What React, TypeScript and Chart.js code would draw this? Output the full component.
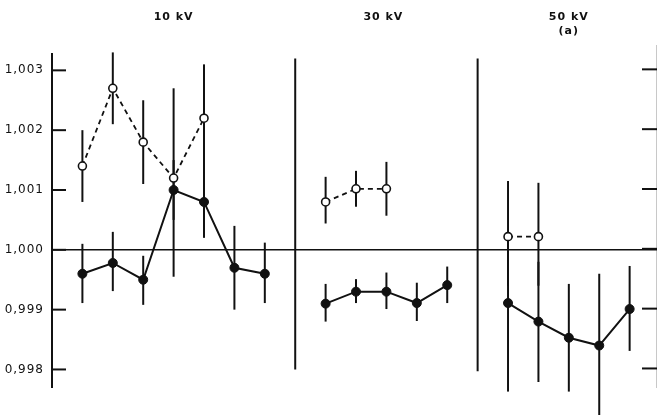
import React, { useEffect, useRef } from "react";
import { Chart, registerables } from "chart.js";

Chart.register(...registerables);

// ---- data ----
const yTicks = [0.998, 0.999, 1.0, 1.001, 1.002, 1.003];
const yTickLabels = ["0,998", "0,999", "1,000", "1,001", "1,002", "1,003"];

const panelTitles = ["10 kV", "30 kV", "50 kV"];
const panelTitleSlots = [4, 10.9, 17];
const subTitle = "(a)";
const separatorSlots = [8, 14];

// 10 kV
const slots10 = [1, 2, 3, 4, 5, 6, 7];
const solid10 = [0.9996, 0.99978, 0.9995, 1.001, 1.0008, 0.9997, 0.9996];
const solid10Lo = [0.99911, 0.99931, 0.99908, 0.99955, 1.0002, 0.999, 0.99911];
const solid10Hi = [1.0001, 1.0003, 0.9999, 1.0015, 1.0014, 1.0004, 1.00012];
const openSlots10 = [1, 2, 3, 4, 5];
const open10 = [1.0014, 1.0027, 1.0018, 1.0012, 1.0022];
const open10Lo = [1.0008, 1.0021, 1.0011, 1.0005, 1.0013];
const open10Hi = [1.002, 1.0033, 1.0025, 1.0027, 1.0031];

// 30 kV
const slots30 = [9, 10, 11, 12, 13];
const solid30 = [0.9991, 0.9993, 0.9993, 0.99911, 0.99941];
const solid30Lo = [0.9988, 0.99911, 0.99901, 0.99881, 0.99911];
const solid30Hi = [0.99943, 0.99951, 0.99962, 0.99945, 0.99972];
const openSlots30 = [9, 10, 11];
const open30 = [1.0008, 1.00102, 1.00102];
const open30Lo = [1.00044, 1.00072, 1.00057];
const open30Hi = [1.00122, 1.00132, 1.00147];

// 50 kV
const slots50 = [15, 16, 17, 18, 19];
const solid50 = [0.99911, 0.9988, 0.99853, 0.9984, 0.99901];
const solid50Lo = [0.99763, 0.99779, 0.99763, 0.9972, 0.99831];
const solid50Hi = [1.0003, 0.9998, 0.99943, 0.9996, 0.99973];
const openSlots50 = [15, 16];
const open50 = [1.00022, 1.00022];
const open50Lo = [0.9994, 0.9994];
const open50Hi = [1.00115, 1.00112];

const separatorTop = 1.0032;
const separatorBottom = [0.998, 0.99797];

const INK = "#111";

function pts(xs: number[], ys: number[]) {
  return xs.map((x, i) => ({ x, y: ys[i] }));
}

const seriesDefs = [
  { xs: slots10, ys: solid10, lo: solid10Lo, hi: solid10Hi, open: false },
  { xs: openSlots10, ys: open10, lo: open10Lo, hi: open10Hi, open: true },
  { xs: slots30, ys: solid30, lo: solid30Lo, hi: solid30Hi, open: false },
  { xs: openSlots30, ys: open30, lo: open30Lo, hi: open30Hi, open: true },
  { xs: slots50, ys: solid50, lo: solid50Lo, hi: solid50Hi, open: false },
  { xs: openSlots50, ys: open50, lo: open50Lo, hi: open50Hi, open: true },
];

const overlay = {
  id: "overlay",
  beforeDatasetsDraw(chart: any) {
    const { ctx, chartArea: a, scales } = chart;
    const xs = scales.x;
    const ys = scales.y;
    const line = (x1: number, y1: number, x2: number, y2: number) => {
      ctx.beginPath();
      ctx.moveTo(x1, y1);
      ctx.lineTo(x2, y2);
      ctx.stroke();
    };
    ctx.save();
    ctx.strokeStyle = INK;
    ctx.lineCap = "butt";

    // left axis
    ctx.lineWidth = 2;
    line(a.left, a.top, a.left, a.bottom);
    // faint right axis
    ctx.save();
    ctx.strokeStyle = "#c8c8c8";
    ctx.lineWidth = 1;
    line(a.right - 0.5, a.top - 8, a.right - 0.5, a.bottom);
    ctx.restore();

    // zero line
    ctx.lineWidth = 1.6;
    const y0 = ys.getPixelForValue(1.0);
    line(a.left, y0, a.right, y0);

    // ticks
    ctx.lineWidth = 2;
    yTicks.forEach((v) => {
      const py = ys.getPixelForValue(v);
      line(a.left, py, a.left + 14, py);
      line(a.right - 15, py - 1, a.right, py - 1);
    });

    // separators
    ctx.lineWidth = 2;
    separatorSlots.forEach((s, i) => {
      const px = xs.getPixelForValue(s);
      line(px, ys.getPixelForValue(separatorTop), px, ys.getPixelForValue(separatorBottom[i]));
    });

    // error bars
    ctx.lineWidth = 2;
    seriesDefs.forEach((d) => {
      d.xs.forEach((sx, i) => {
        const px = xs.getPixelForValue(sx);
        line(px, ys.getPixelForValue(d.hi[i]), px, ys.getPixelForValue(d.lo[i]));
      });
    });

    // tick labels
    ctx.fillStyle = INK;
    ctx.font = "12px 'DejaVu Sans'";
    ctx.textAlign = "right";
    ctx.textBaseline = "middle";
    try {
      (ctx as any).letterSpacing = "1px";
    } catch (e) {}
    yTicks.forEach((v, i) => {
      ctx.fillText(yTickLabels[i], a.left - 8, ys.getPixelForValue(v));
    });

    // panel titles
    ctx.font = "bold 11px 'DejaVu Sans'";
    ctx.textAlign = "center";
    panelTitleSlots.forEach((s, i) => {
      ctx.fillText(panelTitles[i], xs.getPixelForValue(s), 17);
    });
    ctx.fillText(subTitle, xs.getPixelForValue(panelTitleSlots[2]), 31);
    ctx.restore();
  },
};

export default function App() {
  const ref = useRef<HTMLCanvasElement | null>(null);
  useEffect(() => {
    document.body.style.margin = "0";
    const canvas = ref.current!;
    const datasets = seriesDefs.map((d) => ({
      data: pts(d.xs, d.ys),
      borderColor: INK,
      borderWidth: d.open ? 1.8 : 2,
      borderDash: d.open ? [5, 4] : [],
      pointRadius: d.open ? 4 : 4.5,
      pointBackgroundColor: d.open ? "#fff" : INK,
      pointBorderColor: INK,
      pointBorderWidth: d.open ? 1.6 : 1,
      tension: 0,
      fill: false,
    }));
    const chart = new Chart(canvas, {
      type: "line",
      data: { datasets },
      options: {
        animation: false,
        responsive: false,
        devicePixelRatio: 1,
        layout: { autoPadding: false, padding: { left: 52, top: 53, right: 0, bottom: 27 } },
        scales: {
          x: { type: "linear", min: 0, max: 19.9, display: false },
          y: { type: "linear", min: 0.99769, max: 1.00329, display: false },
        },
        plugins: { legend: { display: false }, tooltip: { enabled: false } },
      },
      plugins: [overlay],
    } as any);
    return () => chart.destroy();
  }, []);
  return (
    <div style={{ position: "absolute", left: 0, top: 0, width: 657, height: 415, background: "#fff" }}>
      <canvas ref={ref} width={657} height={415} />
    </div>
  );
}
